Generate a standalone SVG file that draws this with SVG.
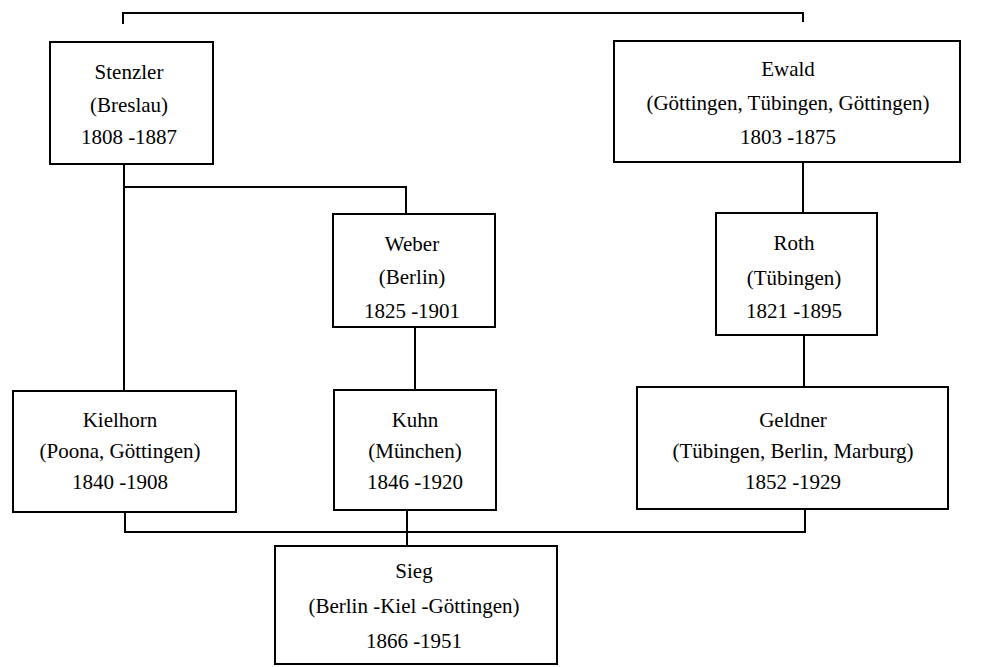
<svg xmlns="http://www.w3.org/2000/svg" width="991" height="667" viewBox="0 0 991 667">
<style>
.box{fill:#fff;stroke:#000;stroke-width:2}
.con{fill:none;stroke:#000;stroke-width:2}
text{font-family:"Liberation Serif","Times New Roman",serif;font-size:21px;fill:#000;text-anchor:middle}
</style>
<rect width="991" height="667" fill="#fff"/>
<g id="connectors">
<path class="con" d="M123 24V13H803V22"/>
<path class="con" d="M124 164V391"/>
<path class="con" d="M124 187H406V214"/>
<path class="con" d="M803 162V213"/>
<path class="con" d="M415 327V390"/>
<path class="con" d="M804 335V387"/>
<path class="con" d="M125 512V532H805V509"/>
<path class="con" d="M407 510V546"/>
</g>
<g id="stenzler">
<rect class="box" x="50" y="42" width="163" height="122"/>
<text x="129" y="79">Stenzler</text>
<text x="129" y="112">(Breslau)</text>
<text x="129" y="144">1808 -1887</text>
</g>
<g id="ewald">
<rect class="box" x="614" y="41" width="346" height="121"/>
<text x="788" y="76">Ewald</text>
<text x="788" y="110">(Göttingen, Tübingen, Göttingen)</text>
<text x="788" y="144">1803 -1875</text>
</g>
<g id="weber">
<rect class="box" x="333" y="214" width="162" height="113"/>
<text x="412" y="251">Weber</text>
<text x="412" y="284">(Berlin)</text>
<text x="412" y="318">1825 -1901</text>
</g>
<g id="roth">
<rect class="box" x="716" y="213" width="161" height="122"/>
<text x="794" y="250">Roth</text>
<text x="794" y="285">(Tübingen)</text>
<text x="794" y="318">1821 -1895</text>
</g>
<g id="kielhorn">
<rect class="box" x="13" y="391" width="223" height="121"/>
<text x="120" y="427">Kielhorn</text>
<text x="120" y="458">(Poona, Göttingen)</text>
<text x="120" y="489">1840 -1908</text>
</g>
<g id="kuhn">
<rect class="box" x="334" y="390" width="162" height="120"/>
<text x="415" y="427">Kuhn</text>
<text x="415" y="458">(München)</text>
<text x="415" y="489">1846 -1920</text>
</g>
<g id="geldner">
<rect class="box" x="637" y="387" width="311" height="122"/>
<text x="793" y="427">Geldner</text>
<text x="793" y="458">(Tübingen, Berlin, Marburg)</text>
<text x="793" y="489">1852 -1929</text>
</g>
<g id="sieg">
<rect class="box" x="275" y="546" width="282" height="118"/>
<text x="414" y="578">Sieg</text>
<text x="414" y="613">(Berlin -Kiel -Göttingen)</text>
<text x="414" y="648">1866 -1951</text>
</g>
</svg>
